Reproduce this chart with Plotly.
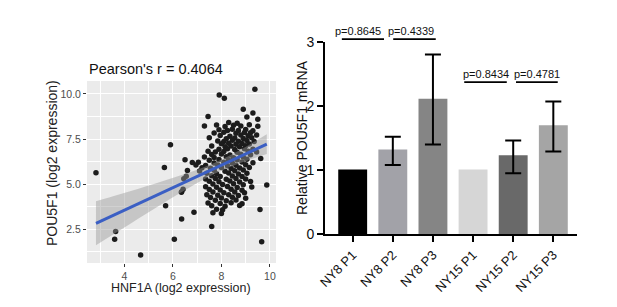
import plotly.graph_objects as go

# ---------------- Left panel: scatter (HNF1A vs POU5F1) ----------------
hnf1a = [
    2.83, 3.64, 3.60, 4.67, 6.06, 5.70, 5.65, 5.90, 6.36, 6.36, 6.42, 6.87, 7.60, 9.59, 9.66, 9.87, 9.38, 7.91, 8.12, 9.62,
    8.90, 9.30, 7.45, 9.05, 9.50, 8.30, 8.65,
    7.30, 7.80, 8.15, 8.50, 8.80, 9.15, 9.50,
    7.90, 8.25, 8.45, 8.70, 9.00, 9.30,
    7.70, 8.10, 8.60, 8.95, 9.20,
    7.95, 8.35, 8.80, 9.10, 9.45,
    7.50, 8.20, 8.55, 8.90, 9.25,
    7.85, 8.10, 8.45, 8.70, 9.05, 9.35,
    8.00, 8.30, 8.60, 8.85, 9.15,
    7.60, 8.15, 8.40, 8.75, 9.00,
    7.90, 8.25, 8.55, 8.95, 9.30,
    7.45, 7.75, 8.10, 8.65, 9.10, 9.45,
    7.60, 8.00, 8.35, 8.80, 9.20,
    7.30, 7.70, 8.20, 8.50, 8.90,
    6.50, 7.50, 7.90, 8.30, 8.65, 9.05,
    6.80, 7.05, 7.70, 8.10, 8.45, 8.85, 9.30,
    6.95, 7.35, 7.85, 8.25, 8.60, 9.00,
    7.20, 7.55, 8.00, 8.40, 8.75, 9.15,
    6.60, 7.10, 7.70, 8.15, 8.55, 8.90,
    7.40, 7.80, 8.30, 8.70, 9.05,
    6.55, 7.60, 7.95, 8.45, 8.85,
    6.45, 7.35, 7.75, 8.20, 8.60, 9.00,
    7.50, 7.90, 8.35, 8.75, 9.20,
    7.65, 8.05, 8.50, 8.90,
    7.35, 7.80, 8.25, 8.65, 9.25,
    7.50, 7.95, 8.40, 8.85,
    6.35, 7.65, 8.10, 8.55, 8.95,
    7.40, 7.85, 8.30, 8.70,
    7.55, 8.00, 8.45, 9.00,
    7.75, 8.20, 8.60,
    7.45, 7.95, 8.40, 8.85,
    7.60, 8.15, 8.75,
    7.80, 8.05,
    7.65, 8.00,
]
pou5f1 = [
    5.64, 2.37, 1.94, 1.07, 1.94, 3.81, 5.93, 7.19, 3.07, 4.58, 4.72, 3.44, 2.65, 3.60, 1.81, 4.95, 10.26, 9.94, 9.76, 6.43,
    9.15, 8.95, 8.75, 8.72, 8.60, 8.42, 8.38,
    8.22, 8.28, 8.20, 8.27, 8.23, 8.30, 8.21,
    8.02, 7.97, 8.05, 7.98, 8.03, 7.96,
    7.84, 7.88, 7.82, 7.87, 7.85,
    7.70, 7.66, 7.73, 7.68, 7.72,
    7.57, 7.52, 7.56, 7.53, 7.58,
    7.40, 7.37, 7.43, 7.38, 7.42, 7.36,
    7.24, 7.27, 7.22, 7.26, 7.23,
    7.12, 7.08, 7.11, 7.07, 7.13,
    6.94, 6.97, 6.92, 6.96, 6.93,
    6.82, 6.78, 6.81, 6.77, 6.83, 6.79,
    6.64, 6.67, 6.62, 6.66, 6.63,
    6.51, 6.48, 6.52, 6.47, 6.50,
    6.36, 6.33, 6.37, 6.32, 6.35, 6.38,
    6.20, 6.22, 6.18, 6.21, 6.17, 6.23, 6.19,
    6.06, 6.03, 6.07, 6.02, 6.05, 6.08,
    5.91, 5.88, 5.92, 5.87, 5.90, 5.93,
    5.76, 5.73, 5.77, 5.72, 5.75, 5.78,
    5.61, 5.58, 5.62, 5.57, 5.60,
    5.44, 5.47, 5.42, 5.46, 5.43,
    5.30, 5.28, 5.32, 5.27, 5.31, 5.29,
    5.16, 5.13, 5.17, 5.12, 5.15,
    5.01, 4.98, 5.02, 4.97,
    4.86, 4.83, 4.87, 4.82, 4.85,
    4.71, 4.68, 4.72, 4.67,
    4.55, 4.57, 4.53, 4.56, 4.52,
    4.41, 4.38, 4.42, 4.37,
    4.26, 4.23, 4.27, 4.22,
    4.11, 4.08, 4.12,
    3.96, 3.93, 3.97, 3.92,
    3.81, 3.78, 3.82,
    3.61, 3.58,
    3.41, 3.38,
]

# regression line and confidence band
fit_x = [2.83, 9.87]
fit_y = [2.83, 7.22]
band_x = [2.83, 3.5, 4.2, 4.9, 5.6, 6.3, 7.0, 7.7, 8.4, 9.1, 9.87]
band_lo = [1.61, 2.18, 2.77, 3.36, 3.94, 4.51, 5.06, 5.56, 5.98, 6.33, 6.67]
band_hi = [4.05, 4.32, 4.60, 4.89, 5.18, 5.48, 5.80, 6.18, 6.63, 7.15, 7.77]
scatter_title = "Pearson's r = 0.4064"

# ---------------- Right panel: bar chart ----------------
categories = ["NY8 P1", "NY8 P2", "NY8 P3", "NY15 P1", "NY15 P2", "NY15 P3"]
rel_mrna = [1.01, 1.32, 2.11, 1.01, 1.23, 1.70]
err_upper = [None, 1.52, 2.80, None, 1.46, 2.07]
err_lower = [None, 1.08, 1.40, None, 0.95, 1.29]
bar_colors = ["#000000", "#a2a2a8", "#858585", "#d6d6d6", "#696969", "#a5a5a5"]

p_labels = ["p=0.8645", "p=0.4339", "p=0.8434", "p=0.4781"]
p_from = [-0.27, 1.01, 2.78, 4.07]
p_to = [0.78, 2.07, 3.84, 5.11]
p_level = [3.04, 3.04, 2.37, 2.37]
p_text_x = [0.13, 1.46, 3.31, 4.59]
p_text_y = [3.17, 3.17, 2.50, 2.50]

FONT = "Liberation Sans, Arial, sans-serif"
# page body has an 8px margin; the figure fills the rest of the 617x307 window
W, H = 601, 291

fig = go.Figure()

fig.add_trace(go.Scatter(
    x=hnf1a, y=pou5f1, mode="markers",
    marker=dict(size=5.5, color="#1c1c1c", line=dict(width=0)),
    xaxis="x", yaxis="y", showlegend=False, hoverinfo="skip"))
fig.add_trace(go.Scatter(
    x=band_x, y=band_lo, mode="lines", line=dict(width=0, shape="spline"),
    xaxis="x", yaxis="y", showlegend=False, hoverinfo="skip"))
fig.add_trace(go.Scatter(
    x=band_x, y=band_hi, mode="lines", line=dict(width=0, shape="spline"),
    fill="tonexty", fillcolor="rgba(153,153,153,0.45)",
    xaxis="x", yaxis="y", showlegend=False, hoverinfo="skip"))
fig.add_trace(go.Scatter(
    x=fit_x, y=fit_y, mode="lines", line=dict(width=3, color="#3b5fc4"),
    xaxis="x", yaxis="y", showlegend=False, hoverinfo="skip"))

xi = list(range(len(categories)))
fig.add_trace(go.Bar(
    x=xi, y=rel_mrna, marker=dict(color=bar_colors, line=dict(width=0)),
    width=0.72, xaxis="x2", yaxis="y2", showlegend=False, hoverinfo="skip"))
ex, ey, ep, em = [], [], [], []
for i, (m, u, l) in enumerate(zip(rel_mrna, err_upper, err_lower)):
    if u is None:
        continue
    ex.append(i)
    ey.append(m)
    ep.append(u - m)
    em.append(m - l)
fig.add_trace(go.Scatter(
    x=ex, y=ey, mode="markers", marker=dict(size=1, color="rgba(0,0,0,0)"),
    error_y=dict(type="data", symmetric=False, array=ep, arrayminus=em,
                 color="black", thickness=2, width=8),
    xaxis="x2", yaxis="y2", showlegend=False, hoverinfo="skip", cliponaxis=False))

shapes = [
    dict(type="rect", xref="x domain", yref="y domain", x0=0, x1=1, y0=0, y1=1,
         fillcolor="#ebebeb", line=dict(width=0), layer="below"),
]
ymax2 = 3.0
for a, b, lv in zip(p_from, p_to, p_level):
    shapes.append(dict(type="line", xref="x2", yref="y2 domain", x0=a, x1=b,
                       y0=lv / ymax2, y1=lv / ymax2, line=dict(color="black", width=1.8)))


def px_x(p):
    return (p - 8) / W


def px_y(p):
    return 1 - (p - 8) / H


annotations = [
    dict(text=scatter_title, xref="paper", yref="paper", x=px_x(87), y=px_y(69),
         xanchor="left", yanchor="middle", showarrow=False,
         font=dict(size=14.5, color="#111111", family=FONT)),
    dict(text="HNF1A (log2 expression)", xref="paper", yref="paper", x=px_x(181), y=px_y(288),
         xanchor="center", yanchor="middle", showarrow=False,
         font=dict(size=12.5, color="#222222", family=FONT)),
    dict(text="POU5F1 (log2 expression)", xref="paper", yref="paper", x=px_x(52), y=px_y(163),
         xanchor="center", yanchor="middle", showarrow=False, textangle=-90,
         font=dict(size=14, color="#222222", family=FONT)),
    dict(text="Relative POU5F1 mRNA", xref="paper", yref="paper", x=px_x(301.5), y=px_y(137.5),
         xanchor="center", yanchor="middle", showarrow=False, textangle=-90,
         font=dict(size=14, color="#111111", family=FONT)),
]
for t, tx, ty in zip(p_labels, p_text_x, p_text_y):
    annotations.append(dict(text=t, xref="x2", yref="y2 domain", x=tx, y=ty / ymax2,
                            xanchor="center", yanchor="middle", showarrow=False,
                            font=dict(size=11, color="#111111", family=FONT)))

fig.update_layout(
    width=W, height=H, autosize=False,
    margin=dict(l=0, r=0, t=0, b=0, autoexpand=False),
    paper_bgcolor="white", plot_bgcolor="white",
    font=dict(family=FONT),
    shapes=shapes, annotations=annotations,
    xaxis=dict(domain=[px_x(87), px_x(276)], range=[2.46, 10.25], anchor="y", automargin=False,
               tickmode="linear", tick0=0, dtick=2,
               showgrid=True, gridcolor="white", gridwidth=1.4,
               minor=dict(dtick=1, tick0=0, showgrid=True, gridcolor="white", gridwidth=0.7),
               zeroline=False, showline=False,
               ticks="outside", ticklen=3, tickwidth=1, tickcolor="#333333",
               tickfont=dict(size=10.5, color="#4d4d4d")),
    yaxis=dict(domain=[px_y(263), px_y(81)], range=[0.63, 10.72], anchor="x", automargin=False,
               tickmode="linear", tick0=0, dtick=2.5, tickformat=".1f",
               showgrid=True, gridcolor="white", gridwidth=1.4,
               minor=dict(dtick=1.25, tick0=0, showgrid=True, gridcolor="white", gridwidth=0.7),
               zeroline=False, showline=False,
               ticks="outside", ticklen=3, tickwidth=1, tickcolor="#333333",
               tickfont=dict(size=10.5, color="#4d4d4d")),
    xaxis2=dict(domain=[px_x(325), px_x(577)], range=[-0.69, 5.59], anchor="y2", automargin=False,
                tickmode="array", tickvals=xi, ticktext=categories, tickangle=-45,
                showgrid=False, zeroline=False,
                showline=True, linecolor="black", linewidth=2,
                ticks="outside", ticklen=6, tickwidth=2, tickcolor="black",
                tickfont=dict(size=13, color="#111111")),
    yaxis2=dict(domain=[px_y(234.3), px_y(41.7)], range=[0, ymax2], anchor="x2", automargin=False,
                tickmode="array", tickvals=[0, 1, 2, 3],
                showgrid=False, zeroline=False,
                showline=True, linecolor="black", linewidth=2,
                ticks="outside", ticklen=6, tickwidth=2, tickcolor="black",
                tickfont=dict(size=14, color="#111111")),
)

fig.write_html("out.html")
